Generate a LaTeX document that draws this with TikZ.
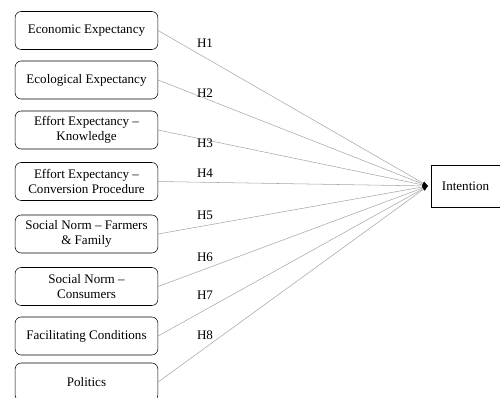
\documentclass[tikz,border=0pt]{standalone}
\usepackage{fontspec}
\setmainfont{Liberation Serif}
\usetikzlibrary{arrows.meta}

\tikzset{
    factor/.style={
        draw,
        rounded corners=4.5pt,
        minimum width=107pt,
        minimum height=28.5pt,
        inner sep=1pt,
        align=center,
        font=\fontsize{9.8}{11}\selectfont
        },
    target/.style={
        draw,
        minimum width=51.5pt,
        minimum height=31.5pt,
        inner sep=1pt,
        font=\fontsize{9.8}{11}\selectfont
        },
    hyp/.style={
        gray!70,
        line width=0.4pt,
        -{Latex[black,length=4pt,width=3pt]}
        },
    hlabel/.style={
        inner sep=0pt,
        font=\fontsize{9.8}{11}\selectfont
        }
}

\begin{document}
\begin{tikzpicture}[x=0.75pt,y=-0.75pt]

\useasboundingbox (0,0) rectangle (500,397);

%factors
\foreach \n/\y/\txt in {1/30.5/{Economic Expectancy},
                        2/80/{Ecological Expectancy},
                        3/130/{Effort Expectancy –\\ Knowledge},
                        4/181.5/{Effort Expectancy –\\ Conversion Procedure},
                        5/234/{Social Norm – Farmers\\ \& Family},
                        6/286.5/{Social Norm –\\ Consumers},
                        7/336/{Facilitating Conditions},
                        8/382/{Politics}}
\node[factor] (f\n) at (86.5,\y) {\txt};

%intention
\node[target] (int) at (465.5,186) {Intention};
\coordinate (tip) at (428,186);

%hypotheses
\foreach \n/\ly in {1/43,
                    2/93,
                    3/143,
                    4/173,
                    5/215,
                    6/257,
                    7/295,
                    8/335}
{
\draw[hyp] (f\n.east) -- (tip);
\node[hlabel] (h\n) at (205,\ly) {H\n};
}
\end{tikzpicture}
\end{document}
